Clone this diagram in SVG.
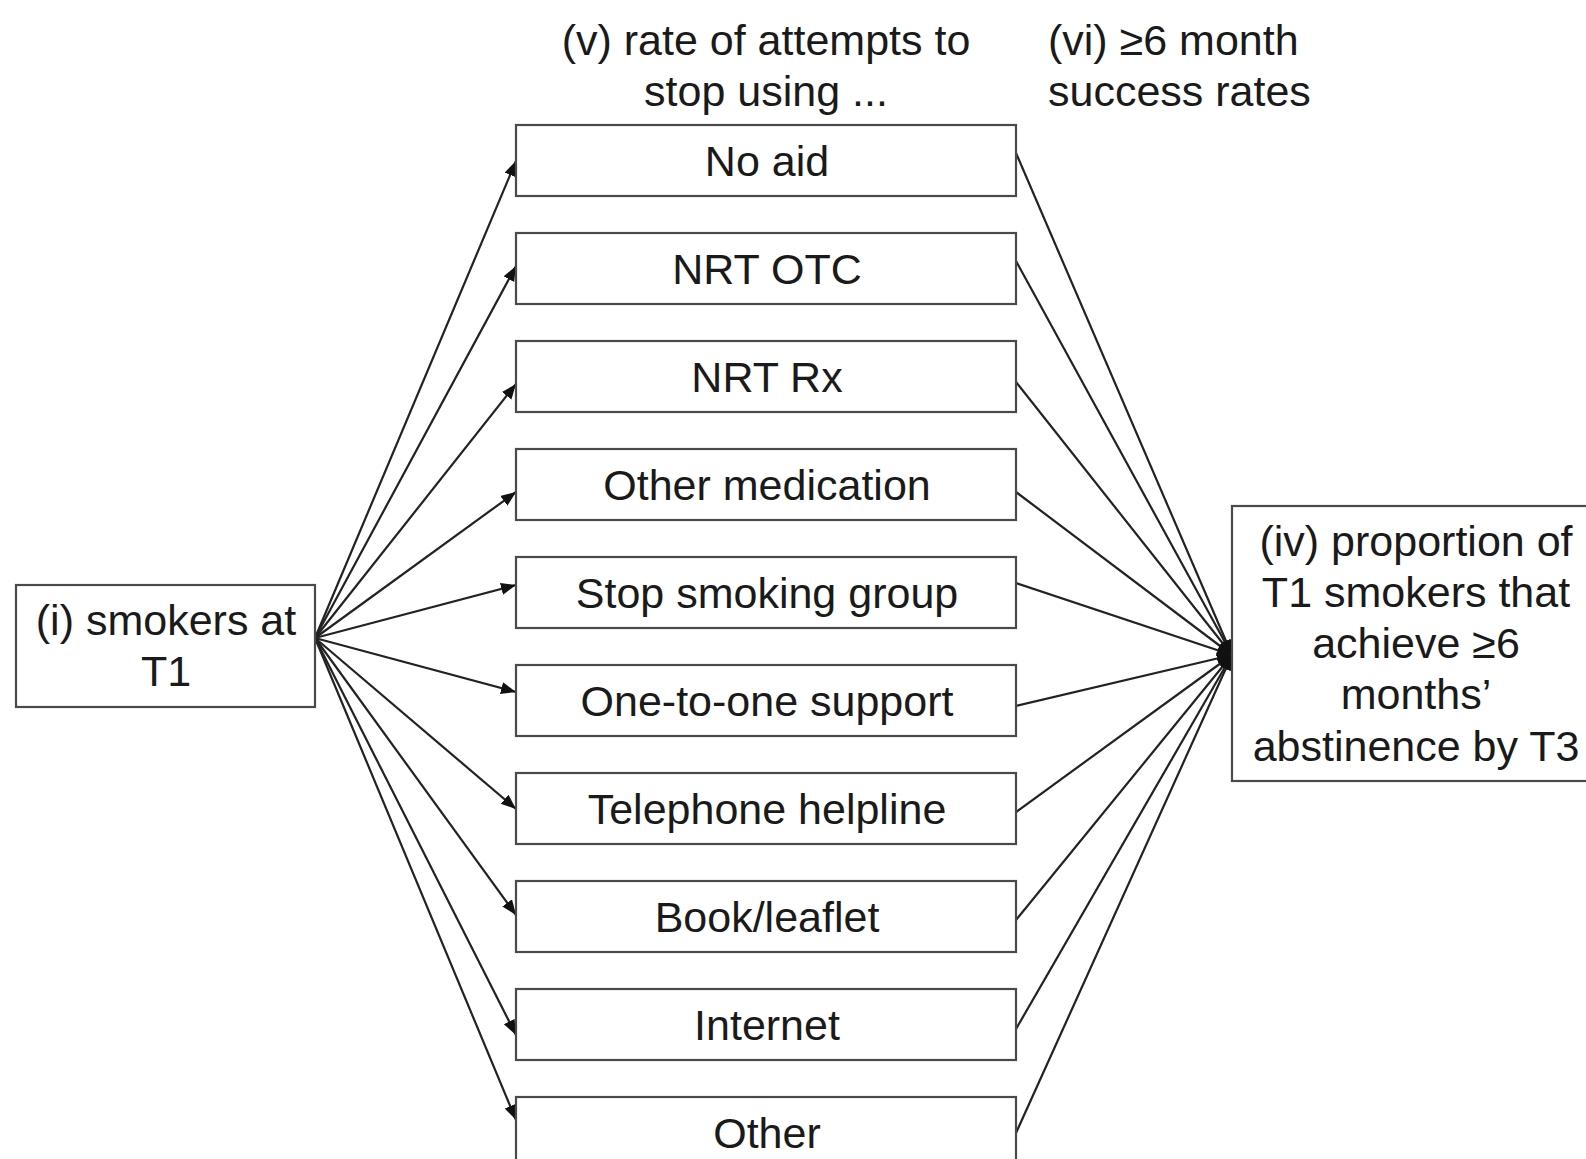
<svg xmlns="http://www.w3.org/2000/svg" width="1586" height="1159" viewBox="0 0 1586 1159">
<defs>
<style>
.box{fill:#fff;stroke:#4a4a4a;stroke-width:2.2}
.t{font-family:"Liberation Sans",Arial,sans-serif;font-size:43px;fill:#1a1a1a;text-anchor:middle}
.ts{font-family:"Liberation Sans",Arial,sans-serif;font-size:43px;fill:#1a1a1a;text-anchor:start}
.c{stroke:#222;stroke-width:2.2;fill:none}
</style>
<marker id="ah" markerUnits="userSpaceOnUse" markerWidth="18" markerHeight="14" refX="15" refY="6" orient="auto">
<path d="M0,0 L15,6 L0,12 z" fill="#111"/>
</marker>
</defs>
<rect width="1586" height="1159" fill="#fff"/>
<g id="headings">
<text class="t" x="766" y="55">(v) rate of attempts to</text>
<text class="t" x="766" y="106">stop using ...</text>
<text class="ts" x="1048" y="55">(vi) ≥6 month</text>
<text class="ts" x="1048" y="106">success rates</text>
</g>
<g id="connectors">
<line class="c" x1="315" y1="638" x2="516" y2="161" marker-end="url(#ah)"/>
<line class="c" x1="315" y1="638" x2="516" y2="266" marker-end="url(#ah)"/>
<line class="c" x1="315" y1="638" x2="516" y2="384" marker-end="url(#ah)"/>
<line class="c" x1="315" y1="638" x2="516" y2="492" marker-end="url(#ah)"/>
<line class="c" x1="315" y1="638" x2="516" y2="585" marker-end="url(#ah)"/>
<line class="c" x1="315" y1="638" x2="516" y2="692" marker-end="url(#ah)"/>
<line class="c" x1="315" y1="638" x2="516" y2="809" marker-end="url(#ah)"/>
<line class="c" x1="315" y1="638" x2="516" y2="915" marker-end="url(#ah)"/>
<line class="c" x1="315" y1="638" x2="516" y2="1035" marker-end="url(#ah)"/>
<line class="c" x1="315" y1="638" x2="516" y2="1120" marker-end="url(#ah)"/>
<line class="c" x1="1016" y1="153" x2="1232" y2="655" marker-end="url(#ah)"/>
<line class="c" x1="1016" y1="261" x2="1232" y2="655" marker-end="url(#ah)"/>
<line class="c" x1="1016" y1="382" x2="1232" y2="655" marker-end="url(#ah)"/>
<line class="c" x1="1016" y1="492" x2="1232" y2="655" marker-end="url(#ah)"/>
<line class="c" x1="1016" y1="583" x2="1232" y2="655" marker-end="url(#ah)"/>
<line class="c" x1="1016" y1="706" x2="1232" y2="655" marker-end="url(#ah)"/>
<line class="c" x1="1016" y1="812" x2="1232" y2="655" marker-end="url(#ah)"/>
<line class="c" x1="1016" y1="920" x2="1232" y2="655" marker-end="url(#ah)"/>
<line class="c" x1="1016" y1="1029" x2="1232" y2="655" marker-end="url(#ah)"/>
<line class="c" x1="1016" y1="1133" x2="1232" y2="655" marker-end="url(#ah)"/>
</g>
<g id="n-smokers">
<rect class="box" x="16" y="585" width="299" height="122"/>
<text class="t" x="166" y="635">(i) smokers at</text>
<text class="t" x="166" y="686">T1</text>
</g>
<g id="n-noaid"><rect class="box" x="516" y="125" width="500" height="71"/><text class="t" x="767" y="176">No aid</text></g>
<g id="n-nrtotc"><rect class="box" x="516" y="233" width="500" height="71"/><text class="t" x="767" y="284">NRT OTC</text></g>
<g id="n-nrtrx"><rect class="box" x="516" y="341" width="500" height="71"/><text class="t" x="767" y="392">NRT Rx</text></g>
<g id="n-othermed"><rect class="box" x="516" y="449" width="500" height="71"/><text class="t" x="767" y="500">Other medication</text></g>
<g id="n-group"><rect class="box" x="516" y="557" width="500" height="71"/><text class="t" x="767" y="608">Stop smoking group</text></g>
<g id="n-onetoone"><rect class="box" x="516" y="665" width="500" height="71"/><text class="t" x="767" y="716">One-to-one support</text></g>
<g id="n-telephone"><rect class="box" x="516" y="773" width="500" height="71"/><text class="t" x="767" y="824">Telephone helpline</text></g>
<g id="n-book"><rect class="box" x="516" y="881" width="500" height="71"/><text class="t" x="767" y="932">Book/leaflet</text></g>
<g id="n-internet"><rect class="box" x="516" y="989" width="500" height="71"/><text class="t" x="767" y="1040">Internet</text></g>
<g id="n-other"><rect class="box" x="516" y="1097" width="500" height="71"/><text class="t" x="767" y="1148">Other</text></g>
<g id="n-proportion">
<rect class="box" x="1232" y="506" width="380" height="275"/>
<text class="t" x="1416" y="556">(iv) proportion of</text>
<text class="t" x="1416" y="607">T1 smokers that</text>
<text class="t" x="1416" y="658">achieve ≥6</text>
<text class="t" x="1416" y="709">months’</text>
<text class="t" x="1416" y="761">abstinence by T3</text>
</g>
</svg>
